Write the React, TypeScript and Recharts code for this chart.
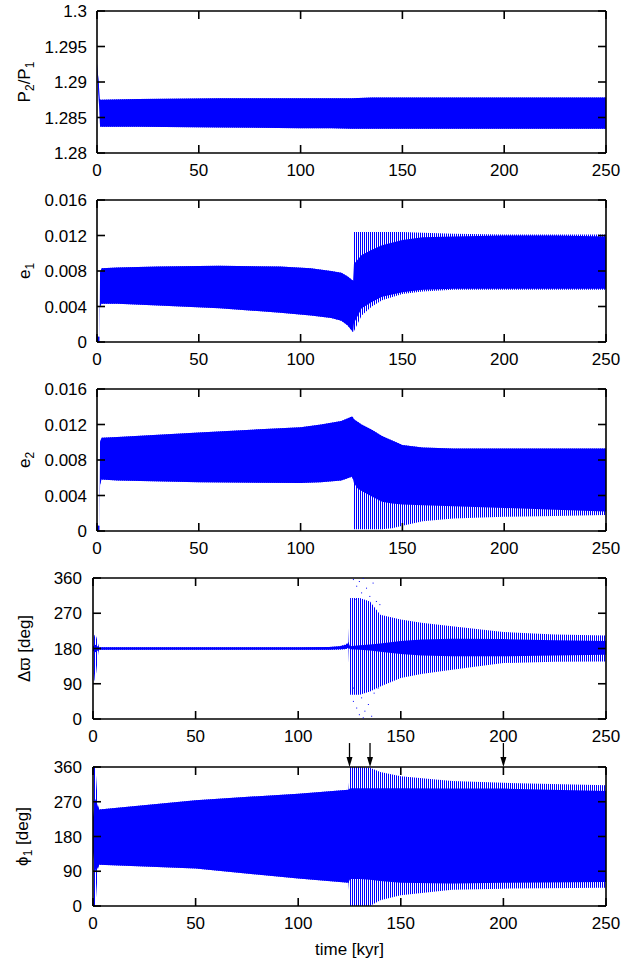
import { Area, ComposedChart, ReferenceLine, Scatter, XAxis, YAxis } from 'recharts'

const FONT = "'Liberation Sans', Arial, Helvetica, sans-serif"
const BLUE = '#0000ff'

const timeTicks = [0, 50, 100, 150, 200, 250]
const ratioTicks = [1.28, 1.285, 1.29, 1.295, 1.3]
const eccTicks = [0, 0.004, 0.008, 0.012, 0.016]
const angleTicks = [0, 90, 180, 270, 360]

// P2/P1
const ratioTime = [0, 0.8, 1.4, 1.6, 20, 60, 100, 115, 125, 135, 150, 200, 250]
const ratioLow = [1.2915, 1.288, 1.2842, 1.2837, 1.2837, 1.2836, 1.2835, 1.2835, 1.2834, 1.2834, 1.2834, 1.2834, 1.2834]
const ratioHigh = [1.2926, 1.29, 1.2876, 1.2875, 1.2876, 1.2877, 1.2877, 1.2877, 1.2877, 1.2878, 1.2878, 1.2878, 1.2878]

// e1
const e1Time = [0, 1.2, 1.5, 2.2, 10, 30, 60, 90, 105, 115, 120, 123, 125.8, 126.2, 130, 135, 140, 150, 160, 175, 200, 225, 250]
const e1CoreLow = [0, 0, 0.004, 0.0043, 0.0043, 0.0041, 0.0038, 0.0033, 0.003, 0.0027, 0.0024, 0.0019, 0.0011, 0.0021, 0.0038, 0.0045, 0.0051, 0.0056, 0.0059, 0.006, 0.006, 0.006, 0.006]
const e1CoreHigh = [0.0006, 0.0006, 0.0078, 0.0083, 0.0084, 0.0085, 0.0086, 0.0085, 0.0083, 0.008, 0.0078, 0.0074, 0.0069, 0.0088, 0.0098, 0.0104, 0.0109, 0.0115, 0.0118, 0.0119, 0.012, 0.012, 0.0119]
const e1EnvLow = [0, 0, 0.004, 0.0043, 0.0043, 0.0041, 0.0038, 0.0033, 0.003, 0.0027, 0.0024, 0.0019, 0.0011, 0.0012, 0.003, 0.004, 0.0047, 0.0054, 0.0057, 0.0059, 0.0059, 0.0059, 0.0059]
const e1EnvHigh = [0.0006, 0.0006, 0.0078, 0.0083, 0.0084, 0.0085, 0.0086, 0.0085, 0.0083, 0.008, 0.0078, 0.0074, 0.0069, 0.0124, 0.0124, 0.0124, 0.0124, 0.0124, 0.0123, 0.0122, 0.0121, 0.0121, 0.0121]

// e2
const e2Time = [0, 1.2, 1.5, 2.2, 10, 50, 100, 110, 120, 125.2, 125.8, 126.2, 128, 130, 135, 140, 145, 150, 160, 175, 200, 225, 250]
const e2CoreLow = [0, 0, 0.0052, 0.0058, 0.0057, 0.0055, 0.0054, 0.0055, 0.0057, 0.0061, 0.0058, 0.0054, 0.0048, 0.0045, 0.0039, 0.0033, 0.0031, 0.003, 0.0029, 0.0028, 0.0026, 0.0024, 0.0022]
const e2CoreHigh = [0.0006, 0.0006, 0.01, 0.0105, 0.0106, 0.0111, 0.0117, 0.012, 0.0124, 0.0129, 0.0128, 0.0126, 0.0123, 0.012, 0.0114, 0.0107, 0.0102, 0.0097, 0.0094, 0.0093, 0.0093, 0.0093, 0.0093]
const e2EnvLow = [0, 0, 0.0052, 0.0058, 0.0057, 0.0055, 0.0054, 0.0055, 0.0057, 0.0061, 0.0058, 0.0002, 0.0002, 0.0002, 0.0002, 0.0002, 0.0003, 0.0006, 0.0011, 0.0014, 0.0016, 0.0017, 0.0018]
const e2EnvHigh = e2CoreHigh

// delta varpi
const dpTime = [0, 0.8, 1.6, 2.6, 3, 50, 100, 115, 120, 123, 124.5, 125.3, 130, 135, 140, 150, 160, 175, 200, 225, 250]
const dpEnvLow = [150, 96, 120, 170, 177, 177, 177, 177, 177, 178, 180, 62, 62, 70, 83, 105, 115, 126, 143, 146, 147]
const dpEnvHigh = [200, 215, 210, 190, 183, 183, 183, 184, 186, 190, 196, 309, 309, 300, 266, 254, 246, 237, 222, 216, 213]
const dpCoreLow = [175, 170, 172, 176, 177, 177, 177, 177, 178, 179, 182, 178, 177, 175, 172, 166, 162, 160, 160, 162, 164]
const dpCoreHigh = [185, 190, 188, 184, 183, 183, 183, 184, 186, 189, 194, 186, 188, 190, 193, 199, 203, 205, 204, 201, 199]
const dpDots = [
  { t: 126.9, v: 356 }, { t: 128.5, v: 339 }, { t: 129.8, v: 351 }, { t: 131.7, v: 359 },
  { t: 130.9, v: 322 }, { t: 133.3, v: 334 }, { t: 134.9, v: 313 }, { t: 136.5, v: 347 },
  { t: 138.1, v: 300 }, { t: 139.8, v: 292 }, { t: 127.7, v: 305 }, { t: 126.9, v: 45 },
  { t: 128.5, v: 28 }, { t: 129.8, v: 11 }, { t: 130.9, v: 54 }, { t: 132.5, v: 20 },
  { t: 134.2, v: 37 }, { t: 135.8, v: 7 }, { t: 137, v: 66 }, { t: 139, v: 79 },
  { t: 126.9, v: 79 }, { t: 131.7, v: 3 },
]

// phi1
const phiTime = [0, 1.2, 2.4, 3, 50, 100, 124.5, 125.3, 130, 135, 140, 150, 175, 200, 250]
const phiEnvLow = [0, 0, 95, 107, 97, 71, 60, 0, 0, 0, 15, 28, 42, 45, 47]
const phiEnvHigh = [360, 360, 262, 250, 274, 291, 301, 360, 360, 358, 347, 336, 324, 319, 313]
const phiCoreLow = [140, 88, 100, 107, 97, 71, 60, 70, 70, 68, 65, 60, 58, 60, 62]
const phiCoreHigh = [230, 278, 258, 250, 274, 291, 301, 305, 305, 305, 305, 305, 304, 304, 298]
const arrowTimes = [125, 135, 200]

function buildRows(time: number[], coreLow: number[], coreHigh: number[], envLow: number[], envHigh: number[]) {
  return time.map((t, i) => ({ t, core: [coreLow[i], coreHigh[i]], env: [envLow[i], envHigh[i]] }))
}

const TICK_LEN = 8
const LINE_W = 1.6
const PLOT_RIGHT = 606
const axisLine = { stroke: '#000', strokeWidth: LINE_W }

function LeftTick({ x, y, payload, gap }: any) {
  return (
    <g>
      <line x1={x} y1={y} x2={x + TICK_LEN} y2={y} stroke="#000" strokeWidth={LINE_W} />
      <text x={x - gap} y={y} dy="0.355em" textAnchor="end" fontSize={17} fontFamily={FONT} fill="#000">
        {String(payload.value)}
      </text>
    </g>
  )
}

function BottomTick({ x, y, payload }: any) {
  return (
    <g>
      <line x1={x} y1={y} x2={x} y2={y - TICK_LEN} stroke="#000" strokeWidth={LINE_W} />
      <text x={x} y={y + 11} dy="0.71em" textAnchor="middle" fontSize={17} fontFamily={FONT} fill="#000">
        {String(payload.value)}
      </text>
    </g>
  )
}

function ArrowShape(props: any) {
  const { x1, y1, x2, y2 } = props
  const tipY = Math.max(y1, y2)
  const topY = Math.min(y1, y2)
  return (
    <g>
      <line x1={x1} y1={topY} x2={x2} y2={tipY - 8} stroke="#000" strokeWidth={1.3} />
      <polygon points={`${x2 - 3},${tipY - 10} ${x2 + 3},${tipY - 10} ${x2},${tipY}`} fill="#000" />
    </g>
  )
}

function Dot(props: any) {
  return <rect x={props.cx - 0.5} y={props.cy - 0.5} width={1} height={1} fill={BLUE} />
}

type PanelProps = {
  id: string
  plotTop: number
  plotHeight: number
  plotLeft: number
  marginTop?: number
  xAxisHeight?: number
  domain: [number, number]
  ticks: number[]
  labelGap: number
  rows: any[]
  titleX: number
  title: React.ReactNode
  xLabel?: string
  children?: React.ReactNode
}

function Panel({ id, plotTop, plotHeight, plotLeft, marginTop = 10, xAxisHeight = 30, domain, ticks, labelGap, rows, titleX, title, xLabel, children }: PanelProps) {
  const height = marginTop + plotHeight + xAxisHeight
  const [yMin, yMax] = domain
  // tick length converted to data units so the library scales place the mirror ticks
  const dy = ((yMax - yMin) * TICK_LEN) / plotHeight
  const dx = (250 * TICK_LEN) / (PLOT_RIGHT - plotLeft)
  return (
    <div style={{ position: 'absolute', left: 0, top: plotTop - marginTop, width: 641, height }}>
      <ComposedChart width={641} height={height} data={rows} margin={{ top: marginTop, right: 641 - PLOT_RIGHT, bottom: 0, left: 0 }}>
        <defs>
          <pattern id={id} width="2" height="4" patternUnits="userSpaceOnUse">
            <rect x="0" y="0" width="1" height="4" fill={BLUE} />
          </pattern>
        </defs>
        <Area dataKey="env" type="linear" fill={`url(#${id})`} fillOpacity={1} stroke="none" isAnimationActive={false} />
        <Area dataKey="core" type="linear" fill={BLUE} fillOpacity={1} stroke="none" isAnimationActive={false} />
        {children}
        <XAxis
          dataKey="t"
          type="number"
          domain={[0, 250]}
          ticks={timeTicks}
          interval={0}
          allowDataOverflow
          height={xAxisHeight}
          tickSize={0}
          tickMargin={0}
          tickLine={false}
          tick={<BottomTick />}
          axisLine={axisLine}
          label={xLabel ? { value: xLabel, position: 'insideBottom', offset: 6, fill: '#000', fontSize: 17, fontFamily: FONT } : undefined}
        />
        <YAxis type="number" domain={domain} ticks={ticks} interval={0} allowDataOverflow width={plotLeft} tickSize={0} tickMargin={0} tickLine={false} tick={<LeftTick gap={labelGap} />} axisLine={axisLine} />
        <ReferenceLine y={yMax} stroke="#000" strokeWidth={LINE_W} ifOverflow="visible" />
        <ReferenceLine x={250} stroke="#000" strokeWidth={LINE_W} ifOverflow="visible" />
        {timeTicks.map((t) => (
          <ReferenceLine key={`top-${t}`} segment={[{ x: t, y: yMax }, { x: t, y: yMax - dy }]} stroke="#000" strokeWidth={LINE_W} ifOverflow="visible" />
        ))}
        {ticks.map((v) => (
          <ReferenceLine key={`right-${v}`} segment={[{ x: 250 - dx, y: v }, { x: 250, y: v }]} stroke="#000" strokeWidth={LINE_W} ifOverflow="visible" />
        ))}
        <text
          x={0}
          y={0}
          transform={`translate(${titleX},${marginTop + plotHeight / 2}) rotate(-90)`}
          textAnchor="middle"
          fontSize={17}
          fontFamily={FONT}
          fill="#000"
        >
          {title}
        </text>
      </ComposedChart>
    </div>
  )
}

export default function App() {
  return (
    <div style={{ position: 'absolute', left: 0, top: 0, width: 641, height: 962, background: '#fff' }}>
      <Panel
        id="stripes-ratio"
        plotTop={11}
        plotHeight={142}
        plotLeft={97}
        domain={[1.28, 1.3]}
        ticks={ratioTicks}
        labelGap={10}
        rows={buildRows(ratioTime, ratioLow, ratioHigh, ratioLow, ratioHigh)}
        titleX={30}
        title={
          <>
            P<tspan dy={4} fontSize={12}>2</tspan>
            <tspan dy={-4}>/P</tspan>
            <tspan dy={4} fontSize={12}>1</tspan>
          </>
        }
      />
      <Panel
        id="stripes-e1"
        plotTop={200}
        plotHeight={142}
        plotLeft={97}
        domain={[0, 0.016]}
        ticks={eccTicks}
        labelGap={10}
        rows={buildRows(e1Time, e1CoreLow, e1CoreHigh, e1EnvLow, e1EnvHigh)}
        titleX={30}
        title={
          <>
            e<tspan dy={4} fontSize={12}>1</tspan>
          </>
        }
      />
      <Panel
        id="stripes-e2"
        plotTop={389}
        plotHeight={142}
        plotLeft={97}
        domain={[0, 0.016]}
        ticks={eccTicks}
        labelGap={10}
        rows={buildRows(e2Time, e2CoreLow, e2CoreHigh, e2EnvLow, e2EnvHigh)}
        titleX={30}
        title={
          <>
            e<tspan dy={4} fontSize={12}>2</tspan>
          </>
        }
      />
      <Panel
        id="stripes-dp"
        plotTop={578}
        plotHeight={141}
        plotLeft={93}
        domain={[0, 360]}
        ticks={angleTicks}
        labelGap={11}
        rows={buildRows(dpTime, dpCoreLow, dpCoreHigh, dpEnvLow, dpEnvHigh)}
        titleX={30}
        title={'Δϖ [deg]'}
      >
        <Scatter data={dpDots} dataKey="v" shape={Dot} isAnimationActive={false} />
      </Panel>
      <Panel
        id="stripes-phi"
        plotTop={767}
        plotHeight={139}
        plotLeft={93}
        marginTop={30}
        xAxisHeight={55}
        domain={[0, 360]}
        ticks={angleTicks}
        labelGap={11}
        rows={buildRows(phiTime, phiCoreLow, phiCoreHigh, phiEnvLow, phiEnvHigh)}
        titleX={28}
        title={
          <>
            ϕ<tspan dy={4} fontSize={12}>1</tspan>
            <tspan dy={-4}> [deg]</tspan>
          </>
        }
        xLabel="time [kyr]"
      >
        {arrowTimes.map((t) => (
          <ReferenceLine key={t} segment={[{ x: t, y: 422 }, { x: t, y: 360 }]} ifOverflow="visible" shape={ArrowShape} />
        ))}
      </Panel>
    </div>
  )
}
